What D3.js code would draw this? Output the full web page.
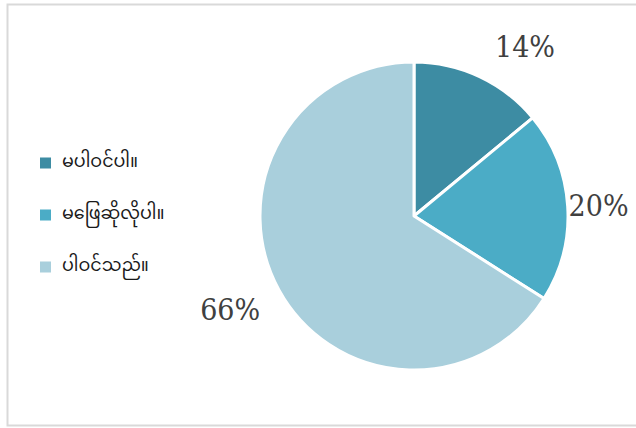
<!DOCTYPE html>
<html>
<head>
<meta charset="utf-8">
<script src="https://cdn.jsdelivr.net/npm/d3@7"></script>
<style>
  html, body { margin: 0; padding: 0; background: #fff; }
  svg { display: block; }
</style>
</head>
<body>
<svg id="chart" width="636" height="428"></svg>
<script>
// ---- data ----
const categories = ["မပါဝင်ပါ။", "မဖြေဆိုလိုပါ။", "ပါဝင်သည်။"];
const values = [14, 20, 66];
const labels = ["14%", "20%", "66%"];
const colors = ["#3d8ca3", "#4bacc6", "#a9cfdc"];

// ---- layout ----
const W = 636, H = 428;
const cx = 414, cy = 216, R = 154;
const svg = d3.select("#chart");

// border
svg.append("rect")
  .attr("x", 7.5).attr("y", 4.5)
  .attr("width", 636).attr("height", 421)
  .attr("fill", "#fff")
  .attr("stroke", "#d9d9d9").attr("stroke-width", 2);

const pie = d3.pie().sort(null).value(d => d)(values);
const arc = d3.arc().innerRadius(0).outerRadius(R);

const g = svg.append("g").attr("transform", `translate(${cx},${cy})`);
g.selectAll("path.slice").data(pie).enter().append("path")
  .attr("class", "slice")
  .attr("d", arc)
  .attr("fill", (d, i) => colors[i])
  .attr("stroke", "#fff")
  .attr("stroke-width", 3)
  .attr("stroke-linejoin", "round");

// data labels: centroid of an outer label arc, nudged like Excel "best fit"
const labelArc = d3.arc().innerRadius(195).outerRadius(195);
const nudge = [[28, 7], [-10, 2], [-13, 0]];
g.selectAll("text.lbl").data(pie).enter().append("text")
  .attr("class", "lbl")
  .attr("x", (d, i) => labelArc.centroid(d)[0] + nudge[i][0])
  .attr("y", (d, i) => labelArc.centroid(d)[1] + nudge[i][1])
  .attr("text-anchor", "middle")
  .attr("dominant-baseline", "central")
  .attr("font-family", "'DejaVu Serif Condensed', 'DejaVu Serif', serif")
  .attr("font-stretch", "condensed")
  .attr("font-size", 30)
  .attr("fill", "#404040")
  .text((d, i) => labels[i]);

// legend
const legendY = d3.scalePoint().domain(categories).range([163, 267]);
const lg = svg.append("g");
const items = lg.selectAll("g.item").data(categories).enter().append("g")
  .attr("class", "item")
  .attr("transform", d => `translate(40,${legendY(d)})`);
items.append("rect")
  .attr("x", 0).attr("y", -5.5)
  .attr("width", 11).attr("height", 11)
  .attr("fill", (d, i) => colors[i]);
items.append("text")
  .attr("x", 22).attr("y", 0)
  .attr("dominant-baseline", "central")
  .attr("font-family", "'Noto Sans Myanmar', 'Padauk', 'Myanmar Text', 'Noto Sans', sans-serif")
  .attr("font-size", 17.5)
  .attr("fill", "#1a1a1a")
  .text(d => d);
</script>
</body>
</html>
